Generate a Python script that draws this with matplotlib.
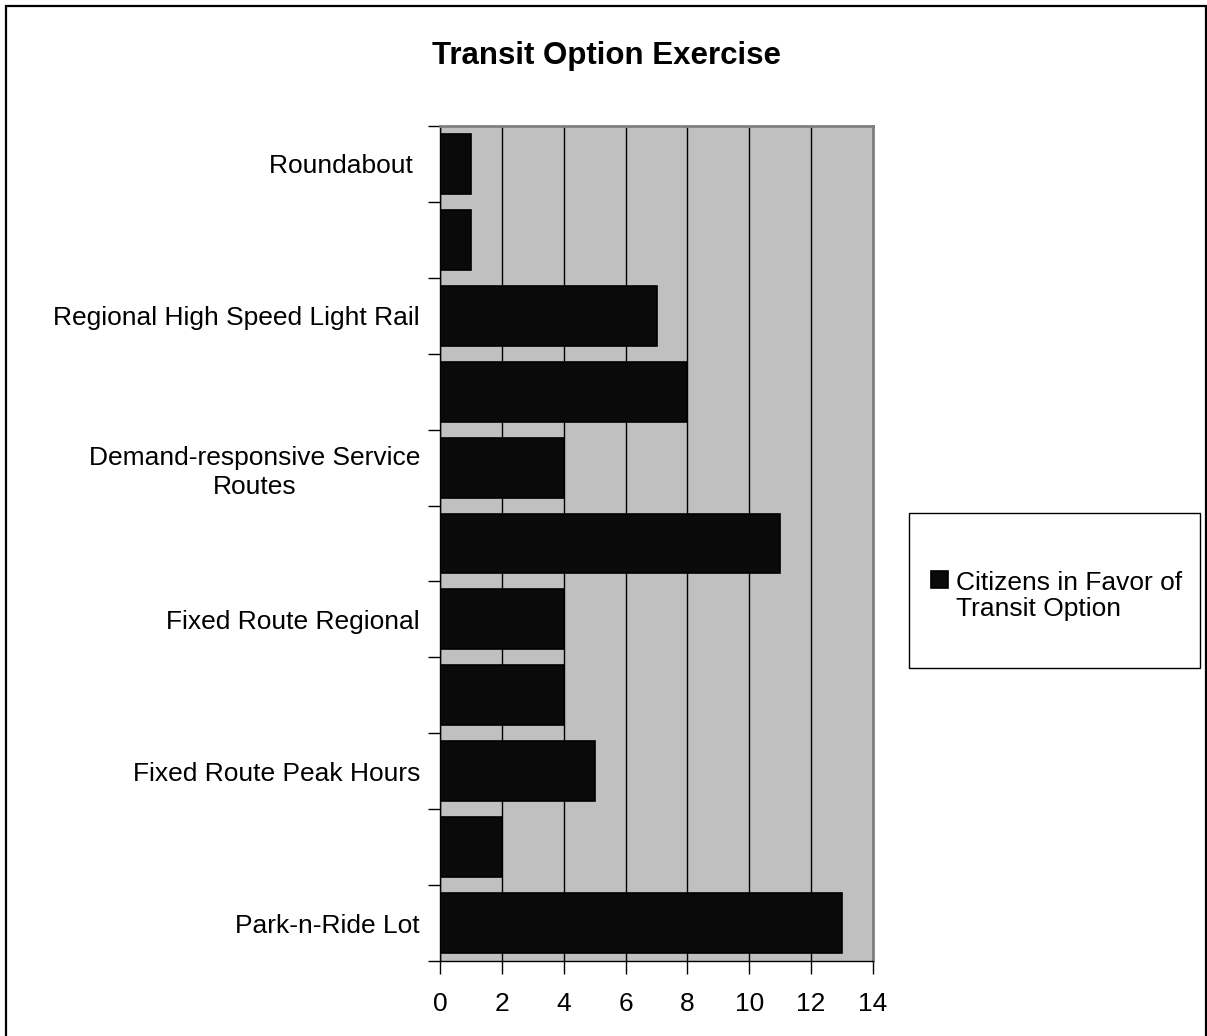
import matplotlib
matplotlib.use("Agg")
import matplotlib.pyplot as plt
from matplotlib.patches import Rectangle
from matplotlib.ticker import FixedLocator, NullFormatter

plt.rcParams['font.family'] = ['Liberation Sans', 'DejaVu Sans']

# Data (bottom to top)
categories = ["Park-n-Ride Lot", "", "Fixed Route Peak Hours", "", "Fixed Route Regional", "",
              "Demand-responsive Service\nRoutes", "", "Regional High Speed Light Rail", "", "Roundabout "]
values = [13, 2, 5, 4, 4, 11, 4, 8, 7, 1, 1]
series_name = "Citizens in Favor of\nTransit Option"
x_ticks = [0, 2, 4, 6, 8, 10, 12, 14]
title = "Transit Option Exercise"

W, H = 1207, 1036
FS = 19
fig = plt.figure(figsize=(W / 100, H / 100), dpi=100)

# outer border
fig.patches.append(Rectangle((6 / W, -0.01), (W - 7) / W, (H - 6) / H + 0.01,
                             transform=fig.transFigure, fill=False, edgecolor='black', linewidth=1.6))

ax = fig.add_axes([440 / W, 1 - 961 / H, (873 - 440) / W, (961 - 126) / H])
ax.set_facecolor('#c0c0c0')
ax.set_axisbelow(True)

pos = list(range(len(values)))
ax.barh(pos, values, height=0.79, color='#0a0a0a', edgecolor='black', linewidth=1.2,
        label=series_name, zorder=3)

ax.set_xlim(0, 14)
ax.set_ylim(-0.5, len(values) - 0.5)
ax.set_xticks(x_ticks)
ax.set_xticklabels([str(t) for t in x_ticks], fontsize=FS)
ax.xaxis.grid(True, color='black', linewidth=1.0, zorder=1)

ax.set_yticks(pos)
ax.set_yticklabels(categories, fontsize=FS, multialignment='center', linespacing=1.25)
ax.tick_params(axis='y', which='major', length=0, pad=14.4)
ax.yaxis.set_minor_locator(FixedLocator([p - 0.5 for p in pos] + [len(values) - 0.5]))
ax.yaxis.set_minor_formatter(NullFormatter())
ax.tick_params(axis='y', which='minor', length=9, width=1, color='black')
ax.tick_params(axis='x', which='major', length=9, width=1, pad=13)

for s in ['top', 'right']:
    ax.spines[s].set_color('#808080')
    ax.spines[s].set_linewidth(2)
for s in ['left', 'bottom']:
    ax.spines[s].set_color('black')
    ax.spines[s].set_linewidth(1)

fig.text(606 / W, 1 - 56 / H, title, ha='center', va='center', fontsize=22.5, fontweight='bold')

# legend box
fig.patches.append(Rectangle((909 / W, 1 - 668 / H), (1200 - 909) / W, (668 - 513) / H,
                             transform=fig.transFigure, fill=False, edgecolor='black', linewidth=1.0))
leg = fig.legend(loc='center left', bbox_to_anchor=(931 / W, 1 - 596 / H), frameon=False, fontsize=FS,
                 handlelength=0.65, handleheight=0.65, handletextpad=0.3, borderpad=0, borderaxespad=0)
for t in leg.get_texts():
    t.set_linespacing(1.15)
for p in leg.get_patches():
    p.set_y(p.get_y() + 0.64 * FS)

fig.savefig("out.png", dpi=100)
